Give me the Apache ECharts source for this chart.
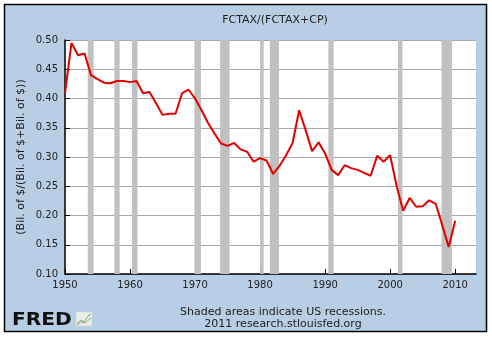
<!DOCTYPE html>
<html>
<head>
<meta charset="utf-8">
<script src="https://cdn.jsdelivr.net/npm/echarts@6/dist/echarts.min.js"></script>
<style>
html,body{margin:0;padding:0;background:#fff;}
#chart{width:492px;height:337px;}
</style>
</head>
<body>
<div id="chart"></div>
<script>
// ---- data ----
var years = [1950,1951,1952,1953,1954,1955,1956,1957,1958,1959,
             1960,1961,1962,1963,1964,1965,1966,1967,1968,1969,
             1970,1971,1972,1973,1974,1975,1976,1977,1978,1979,
             1980,1981,1982,1983,1984,1985,1986,1987,1988,1989,
             1990,1991,1992,1993,1994,1995,1996,1997,1998,1999,
             2000,2001,2002,2003,2004,2005,2006,2007,2008,2009,2010];
var ratio = [0.409,0.495,0.474,0.477,0.440,0.433,0.427,0.426,0.430,0.430,
             0.428,0.430,0.409,0.411,0.392,0.372,0.374,0.374,0.409,0.415,
             0.400,0.380,0.358,0.340,0.323,0.319,0.324,0.313,0.309,0.292,
             0.298,0.294,0.271,0.285,0.303,0.324,0.380,0.346,0.310,0.325,
             0.306,0.278,0.269,0.286,0.281,0.278,0.273,0.268,0.302,0.292,
             0.303,0.250,0.208,0.230,0.215,0.216,0.226,0.220,0.184,0.146,0.191];
var recessionStart = [1953.5,1957.6,1960.3,1969.9,1973.85,1980.0,1981.5,1990.5,2001.2,2007.9];
var recessionEnd   = [1954.4,1958.4,1961.15,1970.9,1975.3,1980.55,1982.9,1991.3,2001.9,2009.5];
var xTicks = [1950,1960,1970,1980,1990,2000,2010];
var yTicks = [0.10,0.15,0.20,0.25,0.30,0.35,0.40,0.45,0.50];
var title = 'FCTAX/(FCTAX+CP)';
var yName = '(Bil. of $/(Bil. of $+Bil. of $))';
var note1 = 'Shaded areas indicate US recessions.';
var note2 = '2011 research.stlouisfed.org';

var FONT = 'DejaVu Sans';
var chart = echarts.init(document.getElementById('chart'), null, {renderer:'canvas'});
var points = years.map(function(y,i){ return [y, ratio[i]]; });
var areas = recessionStart.map(function(s,i){ return [{xAxis:s},{xAxis:recessionEnd[i]}]; });

chart.setOption({
  animation:false,
  backgroundColor:'#ffffff',
  graphic:[
    {type:'rect', z:-10, shape:{x:4.5,y:4.5,width:482,height:327}, style:{fill:'#b7cee4', stroke:'#000', lineWidth:1.5}},
    {type:'text', x:12, y:311, scaleX:1.12, style:{text:'FRED', font:'bold 18px "DejaVu Sans"', fill:'#111'}},
    {type:'rect', shape:{x:76,y:312,width:16,height:14}, style:{fill:'#e9eee6', stroke:'#c9d3c6', lineWidth:0.5}},
    {type:'polyline', shape:{points:[[77,324],[81,320],[84,322],[88,316],[91,314]]}, style:{stroke:'#7bb06a', lineWidth:1, fill:null}},
    {type:'polyline', shape:{points:[[77,325],[81,322],[85,323],[91,318]]}, style:{stroke:'#9aa0a0', lineWidth:1, fill:null}},
    {type:'text', x:283, y:312, style:{text:note1, font:'11px "DejaVu Sans"', fill:'#222', align:'center', verticalAlign:'middle'}},
    {type:'text', x:283, y:324, style:{text:note2, font:'11px "DejaVu Sans"', fill:'#222', align:'center', verticalAlign:'middle'}},
    {type:'text', x:21, y:157, rotation:Math.PI/2, style:{text:yName, font:'11px "DejaVu Sans"', fill:'#222', align:'center', verticalAlign:'middle'}}
  ],
  title:{text:title, left:270, textAlign:'center', top:10, textStyle:{fontFamily:FONT, fontSize:11, fontWeight:'normal', color:'#222'}},
  grid:{left:65, top:40, right:16, bottom:63, show:true, backgroundColor:'#ffffff', borderWidth:0},
  xAxis:{
    type:'value', min:1950, max:2013.2, interval:10,
    axisLine:{show:true, onZero:false, lineStyle:{color:'#000', width:1.5}},
    axisTick:{show:true, inside:true, length:5, customValues:xTicks, lineStyle:{color:'#000'}},
    axisLabel:{customValues:xTicks, fontFamily:FONT, fontSize:10, color:'#222', margin:6, formatter:function(v){return String(v);}},
    splitLine:{show:false}
  },
  yAxis:{
    type:'value', min:0.10, max:0.50, interval:0.05,
    axisLine:{show:true, onZero:false, lineStyle:{color:'#000', width:1.5}},
    axisTick:{show:true, inside:true, length:5, lineStyle:{color:'#000'}},
    axisLabel:{fontFamily:FONT, fontSize:10, color:'#222', margin:7, formatter:function(v){return v.toFixed(2);}},
    splitLine:{show:true, lineStyle:{color:'#a6a6a6', width:1}}
  },
  series:[{
    type:'line', data:points, showSymbol:false, symbol:'none',
    lineStyle:{color:'#e00000', width:2}, z:5,
    markArea:{silent:true, itemStyle:{color:'#c0c0c0', opacity:1}, data:areas}
  }]
});
</script>
</body>
</html>
